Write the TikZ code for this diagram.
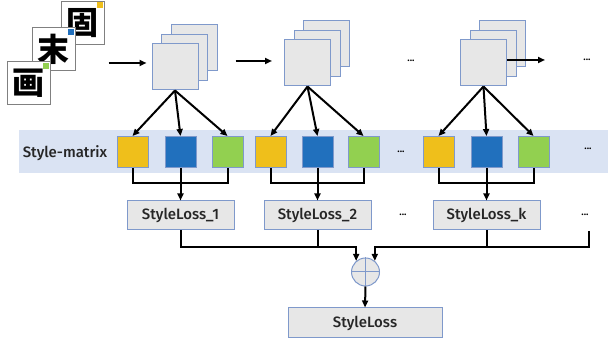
\documentclass[tikz,border=0pt]{standalone}
\usepackage{fontspec}
\setmainfont{Fira Sans}[UprightFont=* Medium,BoldFont=* SemiBold]
\newfontfamily\cjk{Noto Sans CJK SC}
\usetikzlibrary{arrows.meta}
\definecolor{bandblue}{HTML}{DAE3F3}
\definecolor{mapgray}{HTML}{E7E7E7}
\definecolor{mapedge}{HTML}{7F99CB}
\definecolor{imgedge}{HTML}{808080}
\definecolor{gyellow}{HTML}{EFBF1B}
\definecolor{gblue}{HTML}{2170BD}
\definecolor{ggreen}{HTML}{92D050}
\definecolor{txt}{HTML}{262626}
\begin{document}
\begin{tikzpicture}[x=1pt,y=-1pt,
  fmap/.style={draw=mapedge,fill=mapgray,line width=1pt,minimum width=46pt,minimum height=46pt,inner sep=0pt},
  gram/.style={draw=mapedge,line width=1pt,minimum width=31pt,minimum height=31pt,inner sep=0pt},
  lossbox/.style={draw=mapedge,fill=mapgray,line width=1pt,minimum width=107pt,minimum height=29pt,text=txt,font=\fontsize{15}{17}\selectfont},
  img/.style={draw=imgedge,fill=white,line width=1pt,minimum width=43pt,minimum height=43pt,inner sep=0pt,font=\cjk\bfseries\fontsize{32}{32}\selectfont},
  tag/.style={anchor=north east,minimum width=6pt,minimum height=6pt,inner sep=0pt},
  arr/.style={-{Triangle[length=7pt,width=6pt]},line width=2pt},
  link/.style={line width=2pt},
  dots/.style={font=\bfseries}]
\useasboundingbox (0,0) rectangle (608,344);
\fill[bandblue] (19,130) rectangle (608,173);
\node[text=txt,font=\fontsize{15}{17}\selectfont] (smat) at (65,153) {Style-matrix};

\node[img] (img3) at (82.5,23) {固};
\node[tag,fill=gyellow] (tag3) at ([xshift=-1pt,yshift=-1pt]img3.north east) {};
\node[img] (img2) at (53.5,49.5) {末};
\node[tag,fill=gblue] (tag2) at ([xshift=-1pt,yshift=-1pt]img2.north east) {};
\node[img] (img1) at (28.5,83.5) {画};
\node[tag,fill=ggreen] (tag1) at ([xshift=-1pt,yshift=-1pt]img1.north east) {};

\node[fmap] (f1c) at (194,48) {};
\node[fmap] (f1b) at ([xshift=-9.5pt,yshift=-9.5pt]f1c.center) {};
\node[fmap] (f1a) at ([xshift=-9.5pt,yshift=-9.5pt]f1b.center) {};
\node[fmap] (f2c) at (326.5,44) {};
\node[fmap] (f2b) at ([xshift=-9.5pt,yshift=-9.5pt]f2c.center) {};
\node[fmap] (f2a) at ([xshift=-9.5pt,yshift=-9.5pt]f2b.center) {};
\node[fmap] (f3c) at (502.5,44) {};
\node[fmap] (f3b) at ([xshift=-9.5pt,yshift=-9.5pt]f3c.center) {};
\node[fmap] (f3a) at ([xshift=-9.5pt,yshift=-9.5pt]f3b.center) {};
\coordinate (out) at (545,60);
\draw[arr] ([xshift=4pt,yshift=4pt]img3.east |- f1a.west) -- ([xshift=-5pt,yshift=4pt]f1a.west);
\draw[arr] ([xshift=18pt,yshift=2pt]f1c.east |- f2a.west) -- ([xshift=-12pt,yshift=2pt]f2a.west);
\draw[arr] (f3a.east |- out) -- (out);
\node[dots] (dtop) at (411,61) {...};
\node[dots] (dtopR) at (587,60) {...};

\node[gram,fill=gyellow] (y1) at (132.5,152) {};
\node[gram,fill=gblue] (b1) at ([xshift=48pt]y1.center) {};
\node[gram,fill=ggreen] (g1) at ([xshift=47pt]b1.center) {};
\node[gram,fill=gyellow] (y2) at (270.5,152) {};
\node[gram,fill=gblue] (b2) at ([xshift=47pt]y2.center) {};
\node[gram,fill=ggreen] (g2) at ([xshift=46pt]b2.center) {};
\node[gram,fill=gyellow] (y3) at (438.5,152) {};
\node[gram,fill=gblue] (b3) at ([xshift=48pt]y3.center) {};
\node[gram,fill=ggreen] (g3) at ([xshift=47pt]b3.center) {};
\node[dots] (dmid) at (401,152) {...};
\node[dots] (dmidR) at (588,149) {...};

\draw[arr] (f1a.south) -- (y1.north);
\draw[arr] (f1a.south) -- (b1.north);
\draw[arr] (f1a.south) -- (g1.north);
\draw[arr] (f2a.south) -- (y2.north);
\draw[arr] (f2a.south) -- (b2.north);
\draw[arr] (f2a.south) -- (g2.north);
\draw[arr] (f3a.south) -- (y3.north);
\draw[arr] (f3a.south) -- (b3.north);
\draw[arr] (f3a.south) -- (g3.north);

% per-layer losses
\coordinate (lrow) at (0,215.5);
\node[lossbox] (l1) at (b1 |- lrow) {StyleLoss\_1};
\node[lossbox] (l2) at (b2 |- lrow) {StyleLoss\_2};
\node[lossbox] (lk) at (b3 |- lrow) {StyleLoss\_k};
\node[dots] (dlow) at (403,215) {...};
\node[dots] (dlowR) at (585,215) {...};
\draw[link] (y1.south) |- ([yshift=-15pt]b1.south) -| (g1.south);
\draw[link] (y2.south) |- ([yshift=-15pt]b2.south) -| (g2.south);
\draw[link] (y3.south) |- ([yshift=-15pt]b3.south) -| (g3.south);
\draw[arr] (b1.south) -- (l1.north);
\draw[arr] (b2.south) -- (l2.north);
\draw[arr] (b3.south) -- (lk.north);

% sum
\node[circle,draw=mapedge,fill=mapgray,line width=1pt,minimum size=28pt,inner sep=0pt] (sum) at (365.5,272) {};
\draw[mapedge,line width=1pt] (sum.north) -- (sum.south) (sum.west) -- (sum.east);
\node[lossbox,minimum width=154pt,minimum height=30pt] (total) at (365,323) {StyleLoss};
\coordinate (tail) at (589,231);
\draw[arr] (l1.south) -- ++(0,17) -| (sum.130);
\draw[link] (l2.south) -- ++(0,17);
\draw[arr] (tail) -- ++(0,16) -| (sum.50);
\draw[link] (lk.south) -- ++(0,17);
\draw[arr] (sum.south) -- (total.north);
\end{tikzpicture}
\end{document}
